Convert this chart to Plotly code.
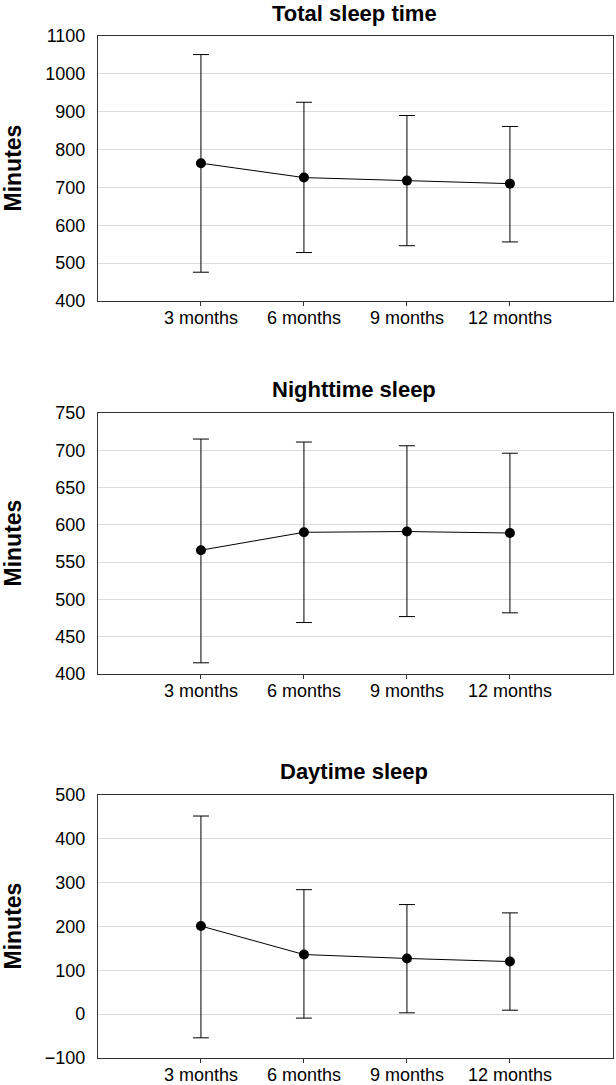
import plotly.graph_objects as go

categories = ["3 months", "6 months", "9 months", "12 months"]

total_mean = [764, 726, 718, 710]
total_upper = [1051, 925, 890, 861]
total_lower = [476, 528, 546, 556]

night_mean = [566, 590, 591, 589]
night_upper = [715, 711, 706, 696]
night_lower = [415, 469, 477, 482]

day_mean = [201, 136, 127, 120]
day_upper = [452, 284, 250, 231]
day_lower = [-54, -9, 3, 9]

titles = ["Total sleep time", "Nighttime sleep", "Daytime sleep"]
y_ranges = [[400, 1100], [400, 750], [-100, 500]]
y_dticks = [100, 50, 100]
domains = [[0.7226, 0.9668], [0.3788, 0.6194], [0.0249, 0.2673]]

FONT = "Liberation Sans Narrow, Arial Narrow, Liberation Sans, Arial, sans-serif"

fig = go.Figure()
series = [(total_mean, total_upper, total_lower),
          (night_mean, night_upper, night_lower),
          (day_mean, day_upper, day_lower)]

for i, (m, up, lo) in enumerate(series):
    n = str(i + 1) if i else ""
    fig.add_trace(go.Scatter(
        x=list(range(len(categories))), y=m,
        mode="lines+markers",
        line=dict(color="black", width=1),
        marker=dict(color="black", size=10),
        error_y=dict(type="data", symmetric=False,
                     array=[u - v for u, v in zip(up, m)],
                     arrayminus=[v - l for v, l in zip(m, lo)],
                     color="black", thickness=1, width=8),
        xaxis="x" + n, yaxis="y" + n, showlegend=False))

layout = dict(
    width=616, height=1085,
    margin=dict(l=0, r=0, t=0, b=0, pad=0),
    paper_bgcolor="white", plot_bgcolor="white",
    font=dict(family=FONT, size=18, color="black"),
    showlegend=False,
)
annotations = []
for i in range(3):
    n = str(i + 1) if i else ""
    layout["xaxis" + n] = dict(
        domain=[0.159, 0.995], anchor="y" + n, automargin=False,
        range=[-1, 4], tickmode="array",
        tickvals=list(range(len(categories))), ticktext=categories,
        showline=True, linecolor="#333", linewidth=1, mirror=True,
        showgrid=False, zeroline=False,
        ticks="outside", ticklen=4, tickcolor="#333", ticklabelstandoff=-4,
        tickfont=dict(family=FONT, size=18))
    layout["yaxis" + n] = dict(
        domain=domains[i], anchor="x" + n, automargin=False,
        range=y_ranges[i], dtick=y_dticks[i],
        showline=True, linecolor="#333", linewidth=1, mirror=True,
        showgrid=True, gridcolor="#dcdcdc", gridwidth=1, zeroline=False,
        ticks="", ticklabelstandoff=8, tickfont=dict(family=FONT, size=18))
    # vertical "Minutes" label placed like the original
    annotations.append(dict(
        text="<b>Minutes</b>", xref="paper", yref="paper",
        x=0.0, xanchor="left", xshift=-2, y=sum(domains[i]) / 2, yanchor="middle",
        textangle=-90, showarrow=False, font=dict(family=FONT, size=23)))
    annotations.append(dict(
        text="<b>" + titles[i] + "</b>", xref="paper", yref="paper",
        x=0.575, y=domains[i][1], yanchor="middle", yshift=23,
        showarrow=False, font=dict(family=FONT, size=22)))

layout["annotations"] = annotations
fig.update_layout(**layout)
# drop the default page margin so the 616x1085 figure fills the window
fig.write_html("out.html", config={"displayModeBar": False},
               post_script="document.body.style.margin='0';document.body.style.overflow='hidden';")
